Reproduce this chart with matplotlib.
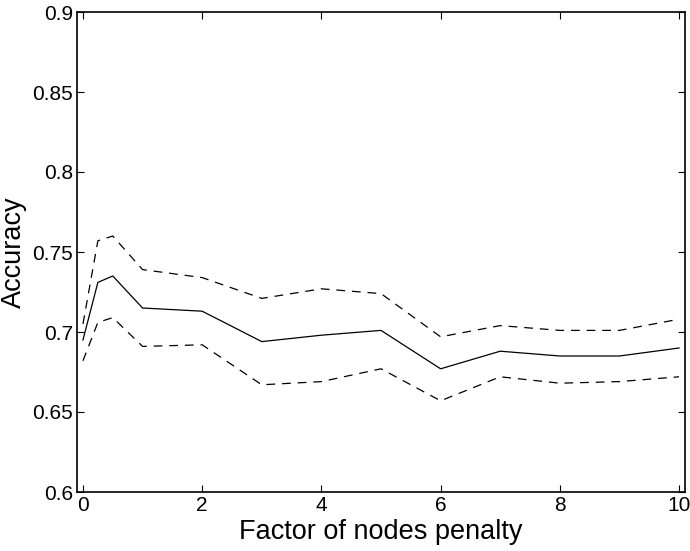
import matplotlib
matplotlib.use("Agg")
import matplotlib.pyplot as plt

# values
penalty = [0, 0.25, 0.5, 1, 2, 3, 4, 5, 6, 7, 8, 9, 10]
acc_mean = [0.695, 0.731, 0.735, 0.715, 0.713, 0.694, 0.698, 0.701, 0.677, 0.688, 0.685, 0.685, 0.690]
acc_upper = [0.705, 0.757, 0.760, 0.739, 0.734, 0.721, 0.727, 0.724, 0.697, 0.704, 0.701, 0.701, 0.708]
acc_lower = [0.682, 0.706, 0.709, 0.691, 0.692, 0.667, 0.669, 0.677, 0.657, 0.672, 0.668, 0.669, 0.672]

xticks = [0, 2, 4, 6, 8, 10]
yticks = [0.6, 0.65, 0.7, 0.75, 0.8, 0.85, 0.9]
ytick_labels = ["0.6", "0.65", "0.7", "0.75", "0.8", "0.85", "0.9"]

plt.rcParams["font.family"] = ["Liberation Sans", "DejaVu Sans"]

fig = plt.figure(figsize=(6.9, 5.51), dpi=100)
ax = fig.add_axes([77 / 690, 1 - 492 / 551, (685 - 77) / 690, (492 - 12) / 551])

ax.plot(penalty, acc_mean, color="black", lw=0.9)
ax.plot(penalty, acc_upper, color="black", lw=0.9, dashes=(7, 5.5))
ax.plot(penalty, acc_lower, color="black", lw=0.9, dashes=(7, 5.5))

ax.set_xlim(-0.1, 10.1)
ax.set_ylim(0.6, 0.9)
ax.set_xticks(xticks)
ax.set_yticks(yticks)
ax.set_yticklabels(ytick_labels)
ax.tick_params(direction="in", length=5, width=0.8, top=True, right=True,
               labelsize=15, pad=3)
for s in ax.spines.values():
    s.set_linewidth(1.2)

ax.set_xlabel("Factor of nodes penalty", fontsize=19.5, labelpad=3)
ax.set_ylabel("Accuracy", fontsize=19.5, labelpad=4)

fig.savefig("out.png", dpi=100, facecolor="white")
